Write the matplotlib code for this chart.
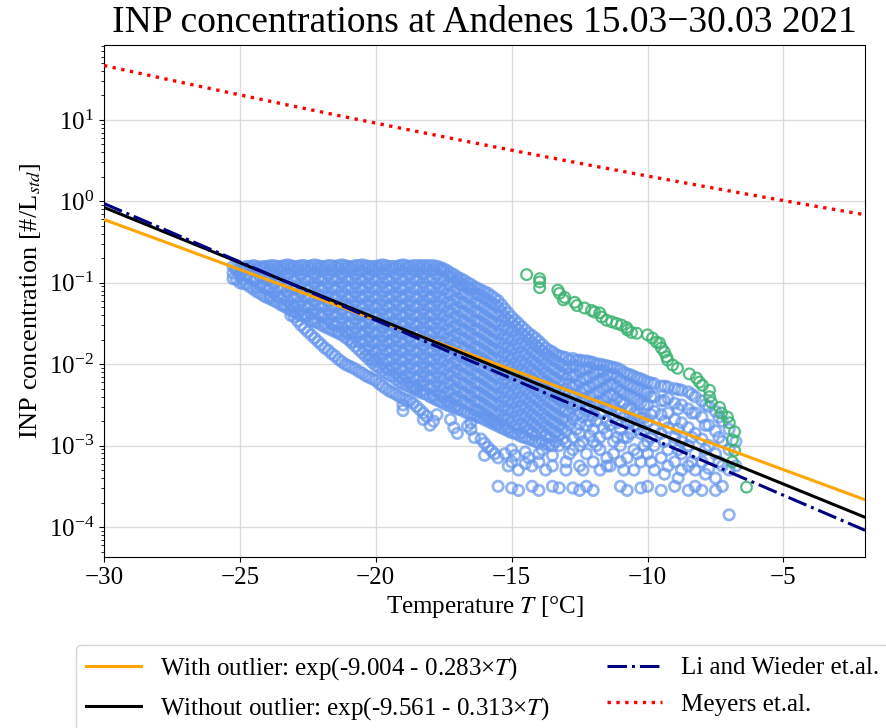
import numpy as np
import matplotlib
matplotlib.use("Agg")
from matplotlib import pyplot as plt

plt.rcParams['font.family'] = ['Liberation Serif', 'DejaVu Serif']
plt.rcParams['mathtext.fontset'] = 'stix'

# blue INP spectra, read column by column: temperature [C] and log10 concentration [#/L]
blue_T = [-25.25, -25.0, -24.75, -24.5, -24.25, -24.0, -23.75, -23.5, -23.25, -23.0,
          -22.75, -22.5, -22.25, -22.0, -21.75, -21.5, -21.25, -21.0, -20.75, -20.5,
          -20.25, -20.0, -19.75, -19.5, -19.25, -19.0, -18.75, -18.5, -18.25, -18.0,
          -17.75, -17.5, -17.25, -17.0, -16.75, -16.5, -16.25, -16.0, -15.75, -15.5,
          -15.25, -15.0, -14.75, -14.5, -14.25, -14.0, -13.75, -13.5, -13.25, -13.0,
          -12.75, -12.5, -12.25, -12.0, -11.75, -11.5, -11.25, -11.0, -10.75, -10.5,
          -10.25, -10.0, -9.75, -9.5, -9.25, -9.0, -8.75, -8.5, -8.25, -8.0,
          -7.75, -7.5, -7.25, -7.0, -6.75]
blue_logc = [
    [-0.80, -0.88, -0.95],
    [-0.82, -0.91, -1.00],
    [-0.80, -0.91, -1.02],
    [-0.79, -0.86, -0.97, -1.08],
    [-0.81, -0.92, -1.03, -1.13],
    [-0.80, -0.86, -0.97, -1.08, -1.18],
    [-0.79, -0.90, -1.01, -1.12, -1.22],
    [-0.80, -0.86, -0.97, -1.08, -1.19, -1.27],
    [-0.78, -0.89, -1.00, -1.11, -1.22, -1.31],
    [-0.80, -0.86, -0.97, -1.08, -1.19, -1.30, -1.36, -1.42],
    [-0.79, -0.90, -1.01, -1.12, -1.23, -1.34, -1.40, -1.52],
    [-0.80, -0.86, -0.97, -1.08, -1.19, -1.30, -1.41, -1.60],
    [-0.78, -0.89, -1.00, -1.11, -1.22, -1.33, -1.44, -1.48, -1.68],
    [-0.80, -0.86, -0.97, -1.08, -1.19, -1.30, -1.41, -1.52, -1.76],
    [-0.79, -0.90, -1.01, -1.12, -1.23, -1.34, -1.45, -1.56, -1.83],
    [-0.80, -0.86, -0.97, -1.08, -1.19, -1.30, -1.41, -1.52, -1.60, -1.90],
    [-0.78, -0.89, -1.00, -1.11, -1.22, -1.33, -1.44, -1.55, -1.64, -1.97],
    [-0.80, -0.86, -0.97, -1.08, -1.19, -1.30, -1.41, -1.52, -1.63, -1.70, -2.02],
    [-0.79, -0.90, -1.01, -1.12, -1.23, -1.34, -1.45, -1.56, -1.67, -1.78, -2.06],
    [-0.78, -0.86, -0.97, -1.08, -1.19, -1.30, -1.41, -1.52, -1.63, -1.74, -1.86, -2.11],
    [-0.80, -0.90, -1.01, -1.12, -1.23, -1.34, -1.45, -1.56, -1.67, -1.78, -1.89, -1.94, -2.16],
    [-0.80, -0.86, -0.97, -1.08, -1.19, -1.30, -1.41, -1.52, -1.63, -1.74, -1.85, -1.96, -2.02, -2.20],
    [-0.78, -0.89, -1.00, -1.11, -1.22, -1.33, -1.44, -1.55, -1.66, -1.77, -1.88, -1.99, -2.08, -2.27],
    [-0.80, -0.86, -0.97, -1.08, -1.19, -1.30, -1.41, -1.52, -1.63, -1.74, -1.85, -1.96, -2.07, -2.14, -2.33],
    [-0.80, -0.90, -1.01, -1.12, -1.23, -1.34, -1.45, -1.56, -1.67, -1.78, -1.89, -2.00, -2.11, -2.19, -2.37],
    [-0.78, -0.86, -0.97, -1.08, -1.19, -1.30, -1.41, -1.52, -1.63, -1.74, -1.85, -1.96, -2.07, -2.18, -2.24,
     -2.42, -2.50, -2.57],
    [-0.80, -0.90, -1.01, -1.12, -1.23, -1.34, -1.45, -1.56, -1.67, -1.78, -1.89, -2.00, -2.11, -2.22, -2.28,
     -2.45],
    [-0.79, -0.86, -0.97, -1.08, -1.19, -1.30, -1.41, -1.52, -1.63, -1.74, -1.85, -1.96, -2.07, -2.18, -2.29,
     -2.32, -2.52],
    [-0.79, -0.89, -1.00, -1.11, -1.22, -1.33, -1.44, -1.55, -1.66, -1.77, -1.88, -1.99, -2.10, -2.21, -2.32,
     -2.36, -2.60, -2.68],
    [-0.79, -0.86, -0.97, -1.08, -1.19, -1.30, -1.41, -1.52, -1.63, -1.74, -1.85, -1.96, -2.07, -2.18, -2.29,
     -2.40, -2.75],
    [-0.80, -0.90, -1.01, -1.12, -1.23, -1.34, -1.45, -1.56, -1.67, -1.78, -1.89, -2.00, -2.11, -2.22, -2.33,
     -2.44, -2.62],
    [-0.83, -0.86, -0.97, -1.08, -1.19, -1.30, -1.41, -1.52, -1.63, -1.74, -1.85, -1.96, -2.07, -2.18, -2.29,
     -2.40, -2.48],
    [-0.88, -0.93, -1.04, -1.15, -1.26, -1.37, -1.48, -1.59, -1.70, -1.81, -1.92, -2.03, -2.14, -2.25, -2.36,
     -2.47, -2.52, -2.68],
    [-0.93, -0.97, -1.08, -1.19, -1.30, -1.41, -1.52, -1.63, -1.74, -1.85, -1.96, -2.07, -2.18, -2.29, -2.40,
     -2.51, -2.55, -2.85],
    [-0.97, -1.03, -1.14, -1.25, -1.36, -1.47, -1.58, -1.69, -1.80, -1.91, -2.02, -2.13, -2.24, -2.35, -2.46,
     -2.58],
    [-1.02, -1.08, -1.19, -1.30, -1.41, -1.52, -1.63, -1.74, -1.85, -1.96, -2.07, -2.18, -2.29, -2.40, -2.51,
     -2.62, -2.72, -2.80],
    [-1.07, -1.14, -1.25, -1.36, -1.47, -1.58, -1.69, -1.80, -1.91, -2.02, -2.13, -2.24, -2.35, -2.46, -2.57,
     -2.65],
    [-1.11, -1.19, -1.30, -1.41, -1.52, -1.63, -1.74, -1.85, -1.96, -2.07, -2.18, -2.29, -2.40, -2.51, -2.62,
     -2.68, -2.97, -3.12],
    [-1.16, -1.25, -1.36, -1.47, -1.58, -1.69, -1.80, -1.91, -2.02, -2.13, -2.24, -2.35, -2.46, -2.57, -2.68,
     -2.72, -3.06],
    [-1.22, -1.30, -1.41, -1.52, -1.63, -1.74, -1.85, -1.96, -2.07, -2.18, -2.29, -2.40, -2.51, -2.62, -2.73,
     -2.76, -3.15, -3.50],
    [-1.32, -1.42, -1.53, -1.64, -1.75, -1.86, -1.97, -2.08, -2.19, -2.30, -2.41, -2.52, -2.63, -2.74, -2.80,
     -3.10],
    [-1.42, -1.49, -1.60, -1.71, -1.82, -1.93, -2.04, -2.15, -2.26, -2.37, -2.48, -2.59, -2.70, -2.84, -3.05,
     -3.20, -3.52],
    [-1.50, -1.58, -1.69, -1.80, -1.91, -2.02, -2.13, -2.24, -2.35, -2.46, -2.57, -2.68, -2.79, -2.87, -3.30,
     -3.55],
    [-1.58, -1.66, -1.77, -1.88, -1.99, -2.10, -2.21, -2.32, -2.43, -2.54, -2.65, -2.76, -2.90, -3.08, -3.22],
    [-1.65, -1.74, -1.85, -1.96, -2.07, -2.18, -2.29, -2.40, -2.51, -2.62, -2.73, -2.84, -2.93, -3.25, -3.50],
    [-1.72, -1.80, -1.91, -2.02, -2.13, -2.24, -2.35, -2.46, -2.57, -2.68, -2.79, -2.96, -3.10, -3.20, -3.55],
    [-1.80, -1.88, -1.99, -2.10, -2.21, -2.32, -2.43, -2.54, -2.65, -2.76, -2.87, -2.98, -3.30],
    [-1.85, -1.94, -2.05, -2.16, -2.27, -2.38, -2.49, -2.60, -2.71, -2.82, -3.00, -3.12, -3.25, -3.50],
    [-1.90, -1.99, -2.10, -2.21, -2.32, -2.43, -2.54, -2.65, -2.76, -2.87, -3.00, -3.52],
    [-1.92, -2.05, -2.18, -2.31, -2.44, -2.57, -2.70, -2.83, -2.96, -3.20, -3.30],
    [-1.93, -2.02, -2.15, -2.28, -2.41, -2.54, -2.67, -2.90, -3.05, -3.52],
    [-1.95, -2.08, -2.21, -2.34, -2.47, -2.60, -2.73, -2.86, -3.00, -3.25, -3.55],
    [-1.96, -2.05, -2.18, -2.31, -2.44, -2.57, -2.75, -3.10, -3.50],
    [-1.98, -2.11, -2.24, -2.37, -2.50, -2.63, -2.80, -2.95, -3.20, -3.55],
    [-2.00, -2.08, -2.21, -2.34, -2.47, -2.60, -2.90, -3.05, -3.30],
    [-2.02, -2.14, -2.27, -2.40, -2.53, -2.70, -2.85, -3.15, -3.25],
    [-2.04, -2.12, -2.25, -2.38, -2.51, -2.65, -2.95, -3.10],
    [-2.07, -2.20, -2.33, -2.46, -2.60, -2.80, -3.00, -3.20, -3.50],
    [-2.12, -2.25, -2.38, -2.55, -2.72, -2.90, -3.15, -3.55],
    [-2.15, -2.28, -2.42, -2.60, -2.75, -3.05, -3.30],
    [-2.18, -2.32, -2.48, -2.66, -2.85, -3.20, -3.52],
    [-2.22, -2.35, -2.50, -2.70, -2.95, -3.10, -3.50],
    [-2.24, -2.40, -2.58, -2.80, -3.00, -3.30],
    [-2.27, -2.45, -2.62, -2.85, -3.15, -3.55],
    [-2.28, -2.42, -2.60, -2.78, -3.05, -3.25],
    [-2.30, -2.48, -2.68, -2.90, -3.20, -3.50],
    [-2.32, -2.50, -2.72, -2.95, -3.10, -3.30],
    [-2.34, -2.55, -2.78, -3.00, -3.25, -3.55],
    [-2.40, -2.60, -2.85, -3.10, -3.30, -3.50],
    [-2.45, -2.65, -2.92, -3.20, -3.55],
    [-2.52, -2.75, -3.00, -3.28],
    [-2.58, -2.82, -3.10, -3.40, -3.55],
    [-2.70, -2.95, -3.25, -3.50],
    [-2.80, -3.05, -3.30, -3.85],
    [-2.95, -3.25],
]

# second set of blue columns, read between the ones above
blue_T2 = [-25.125, -24.875, -24.625, -24.375, -24.125, -23.875, -23.625, -23.375, -23.125, -22.875,
           -22.625, -22.375, -22.125, -21.875, -21.625, -21.375, -21.125, -20.875, -20.625, -20.375,
           -20.125, -19.875, -19.625, -19.375, -19.125, -18.875, -18.625, -18.375, -18.125, -17.875,
           -17.625, -17.375, -17.125, -16.875, -16.625, -16.375, -16.125, -15.875, -15.625, -15.375,
           -15.125, -14.875, -14.625, -14.375, -14.125, -13.875, -13.625, -13.375, -13.125, -12.875,
           -12.625, -12.375, -12.125, -11.875, -11.625, -11.375, -11.125, -10.875, -10.625, -10.375,
           -10.125, -9.875, -9.375, -8.875, -8.375, -7.875, -7.375]
blue_logc2 = [
    [-0.81, -0.85, -0.96],
    [-0.81, -0.85, -0.96, -1.01],
    [-0.80, -0.83, -0.94, -1.05],
    [-0.80, -0.84, -0.95, -1.06, -1.11],
    [-0.80, -0.83, -0.94, -1.05, -1.16],
    [-0.79, -0.84, -0.95, -1.06, -1.17, -1.20],
    [-0.80, -0.84, -0.95, -1.06, -1.17, -1.24],
    [-0.79, -0.83, -0.94, -1.05, -1.16, -1.27, -1.29],
    [-0.79, -0.83, -0.94, -1.05, -1.16, -1.27, -1.34, -1.40],
    [-0.80, -0.84, -0.95, -1.06, -1.17, -1.28, -1.38, -1.47],
    [-0.79, -0.84, -0.95, -1.06, -1.17, -1.28, -1.39, -1.42, -1.56],
    [-0.79, -0.83, -0.94, -1.05, -1.16, -1.27, -1.38, -1.46, -1.64],
    [-0.79, -0.83, -0.94, -1.05, -1.16, -1.27, -1.38, -1.49, -1.72],
    [-0.80, -0.84, -0.95, -1.06, -1.17, -1.28, -1.39, -1.50, -1.54, -1.80],
    [-0.79, -0.84, -0.95, -1.06, -1.17, -1.28, -1.39, -1.50, -1.58, -1.87],
    [-0.79, -0.83, -0.94, -1.05, -1.16, -1.27, -1.38, -1.49, -1.60, -1.62, -1.94],
    [-0.79, -0.83, -0.94, -1.05, -1.16, -1.27, -1.38, -1.49, -1.60, -1.67, -2.00],
    [-0.80, -0.84, -0.95, -1.06, -1.17, -1.28, -1.39, -1.50, -1.61, -1.72, -1.74, -2.04],
    [-0.79, -0.84, -0.95, -1.06, -1.17, -1.28, -1.39, -1.50, -1.61, -1.72, -1.82, -2.09],
    [-0.79, -0.83, -0.94, -1.05, -1.16, -1.27, -1.38, -1.49, -1.60, -1.71, -1.82, -1.90, -2.14],
    [-0.80, -0.84, -0.95, -1.06, -1.17, -1.28, -1.39, -1.50, -1.61, -1.72, -1.83, -1.94, -1.98, -2.18],
    [-0.79, -0.83, -0.94, -1.05, -1.16, -1.27, -1.38, -1.49, -1.60, -1.71, -1.82, -1.93, -2.04, -2.24],
    [-0.79, -0.84, -0.95, -1.06, -1.17, -1.28, -1.39, -1.50, -1.61, -1.72, -1.83, -1.94, -2.05, -2.11, -2.30],
    [-0.80, -0.83, -0.94, -1.05, -1.16, -1.27, -1.38, -1.49, -1.60, -1.71, -1.82, -1.93, -2.04, -2.15, -2.35],
    [-0.79, -0.84, -0.95, -1.06, -1.17, -1.28, -1.39, -1.50, -1.61, -1.72, -1.83, -1.94, -2.05, -2.16, -2.22,
     -2.40],
    [-0.79, -0.83, -0.94, -1.05, -1.16, -1.27, -1.38, -1.49, -1.60, -1.71, -1.82, -1.93, -2.04, -2.15, -2.26,
     -2.44],
    [-0.79, -0.84, -0.95, -1.06, -1.17, -1.28, -1.39, -1.50, -1.61, -1.72, -1.83, -1.94, -2.05, -2.16, -2.27,
     -2.30, -2.48],
    [-0.79, -0.83, -0.94, -1.05, -1.16, -1.27, -1.38, -1.49, -1.60, -1.71, -1.82, -1.93, -2.04, -2.15, -2.26,
     -2.34, -2.56],
    [-0.79, -0.83, -0.94, -1.05, -1.16, -1.27, -1.38, -1.49, -1.60, -1.71, -1.82, -1.93, -2.04, -2.15, -2.26,
     -2.37, -2.64],
    [-0.79, -0.84, -0.95, -1.06, -1.17, -1.28, -1.39, -1.50, -1.61, -1.72, -1.83, -1.94, -2.05, -2.16, -2.27,
     -2.38, -2.42, -2.70],
    [-0.81, -0.84, -0.95, -1.06, -1.17, -1.28, -1.39, -1.50, -1.61, -1.72, -1.83, -1.94, -2.05, -2.16, -2.27,
     -2.38, -2.46],
    [-0.85, -0.91, -1.02, -1.13, -1.24, -1.35, -1.46, -1.57, -1.68, -1.79, -1.90, -2.01, -2.12, -2.23, -2.34,
     -2.45, -2.50],
    [-0.90, -0.99, -1.10, -1.21, -1.32, -1.43, -1.54, -1.65, -1.76, -1.87, -1.98, -2.09, -2.20, -2.31, -2.42,
     -2.53, -2.78],
    [-0.95, -1.02, -1.13, -1.24, -1.35, -1.46, -1.57, -1.68, -1.79, -1.90, -2.01, -2.12, -2.23, -2.34, -2.45,
     -2.56],
    [-1.00, -1.06, -1.17, -1.28, -1.39, -1.50, -1.61, -1.72, -1.83, -1.94, -2.05, -2.16, -2.27, -2.38, -2.49,
     -2.60, -2.76],
    [-1.05, -1.13, -1.24, -1.35, -1.46, -1.57, -1.68, -1.79, -1.90, -2.01, -2.12, -2.23, -2.34, -2.45, -2.56,
     -2.63, -2.90],
    [-1.09, -1.16, -1.27, -1.38, -1.49, -1.60, -1.71, -1.82, -1.93, -2.04, -2.15, -2.26, -2.37, -2.48, -2.59,
     -2.66, -2.92],
    [-1.13, -1.22, -1.33, -1.44, -1.55, -1.66, -1.77, -1.88, -1.99, -2.10, -2.21, -2.32, -2.43, -2.54, -2.65,
     -2.70, -3.02],
    [-1.19, -1.27, -1.38, -1.49, -1.60, -1.71, -1.82, -1.93, -2.04, -2.15, -2.26, -2.37, -2.48, -2.59, -2.70,
     -2.74, -3.10],
    [-1.27, -1.36, -1.47, -1.58, -1.69, -1.80, -1.91, -2.02, -2.13, -2.24, -2.35, -2.46, -2.57, -2.68, -2.78],
    [-1.37, -1.46, -1.57, -1.68, -1.79, -1.90, -2.01, -2.12, -2.23, -2.34, -2.45, -2.56, -2.67, -2.78, -2.82,
     -3.25],
    [-1.46, -1.54, -1.65, -1.76, -1.87, -1.98, -2.09, -2.20, -2.31, -2.42, -2.53, -2.64, -2.75, -2.85, -3.12],
    [-1.54, -1.63, -1.74, -1.85, -1.96, -2.07, -2.18, -2.29, -2.40, -2.51, -2.62, -2.73, -2.84, -2.89],
    [-1.62, -1.70, -1.81, -1.92, -2.03, -2.14, -2.25, -2.36, -2.47, -2.58, -2.69, -2.80, -2.92, -3.15],
    [-1.68, -1.77, -1.88, -1.99, -2.10, -2.21, -2.32, -2.43, -2.54, -2.65, -2.76, -2.87, -2.95],
    [-1.76, -1.84, -1.95, -2.06, -2.17, -2.28, -2.39, -2.50, -2.61, -2.72, -2.83, -2.94, -3.05],
    [-1.83, -1.91, -2.02, -2.13, -2.24, -2.35, -2.46, -2.57, -2.68, -2.79, -2.90, -2.99],
    [-1.88, -1.96, -2.07, -2.18, -2.29, -2.40, -2.51, -2.62, -2.73, -2.84, -2.95],
    [-1.91, -2.02, -2.13, -2.24, -2.35, -2.46, -2.57, -2.68, -2.79, -2.92],
    [-1.95, -2.04, -2.12, -2.25, -2.36, -2.48, -2.60, -2.75, -3.10],
    [-1.95, -2.02, -2.14, -2.26, -2.38, -2.50, -2.62, -2.80],
    [-1.96, -2.06, -2.18, -2.30, -2.45, -2.65, -2.95, -3.30],
    [-1.97, -2.04, -2.16, -2.28, -2.40, -2.52, -2.70, -2.88],
    [-2.00, -2.10, -2.22, -2.35, -2.48, -2.70, -3.00],
    [-2.01, -2.08, -2.18, -2.30, -2.44, -2.58, -2.78],
    [-2.03, -2.13, -2.25, -2.38, -2.55, -2.75, -3.25],
    [-2.05, -2.16, -2.28, -2.42, -2.58, -2.72, -2.90],
    [-2.10, -2.22, -2.35, -2.48, -2.64, -2.90, -3.30],
    [-2.13, -2.26, -2.40, -2.55, -2.70, -2.85],
    [-2.17, -2.30, -2.45, -2.62, -2.80, -3.10],
    [-2.20, -2.34, -2.50, -2.66, -2.82, -3.00],
    [-2.23, -2.40, -2.62, -2.90, -3.20],
    [-2.27, -2.45, -2.70, -2.95, -3.35],
    [-2.31, -2.55, -2.80, -3.05, -3.40],
    [-2.37, -2.60, -2.90, -3.20],
    [-2.50, -2.75, -3.05, -3.35],
    [-2.65, -2.90, -3.20],
]

# green (outlier) spectrum
green_T = [-14.45, -13.97, -13.97, -13.97, -13.30, -13.24, -13.05, -13.10, -12.68, -12.60,
           -12.32, -12.06, -11.95, -11.76, -11.69, -11.51, -11.32, -11.14, -10.96, -10.77,
           -10.74, -10.59, -10.40, -10.00, -9.82, -9.67, -9.56, -9.49, -9.38, -9.30,
           -9.26, -9.08, -8.90, -8.46, -8.20, -8.09, -7.98, -7.72, -7.72, -7.65,
           -7.35, -7.28, -7.06, -6.99, -6.80, -6.88, -6.80, -6.88, -6.36]
green_logc = [-0.90, -0.95, -0.99, -1.06, -1.09, -1.13, -1.18, -1.21, -1.24, -1.28,
              -1.31, -1.34, -1.36, -1.37, -1.42, -1.46, -1.48, -1.50, -1.52, -1.55,
              -1.58, -1.61, -1.62, -1.64, -1.68, -1.73, -1.74, -1.80, -1.85, -1.91,
              -1.95, -2.01, -2.05, -2.12, -2.17, -2.22, -2.26, -2.32, -2.40, -2.47,
              -2.53, -2.60, -2.65, -2.72, -2.83, -2.93, -3.06, -3.20, -3.51]

# fit coefficients, ln(n) = a + b*T
fit_with = (-9.004, -0.283)
fit_without = (-9.561, -0.313)
li_wieder = (-9.962, -0.330)


def meyers(T):
    # Meyers et al. (1992), supersaturation over ice from Magnus formulas
    esw = 6.112 * np.exp(17.62 * T / (243.12 + T))
    esi = 6.112 * np.exp(22.46 * T / (272.62 + T))
    si = esw / esi
    return np.exp(-0.639 + 12.96 * (si - 1))


def main():
    fig = plt.figure(figsize=(8.87, 7.28), dpi=100)
    ax = fig.add_axes([0.1172, 0.2349, 0.858, 0.7033])

    bx = []
    by = []
    for temps, cols in [(blue_T, blue_logc), (blue_T2, blue_logc2)]:
        for t, col in zip(temps, cols):
            for v in col:
                bx.append(t)
                by.append(10 ** v)
    ax.scatter(bx, by, s=56, facecolors='none', edgecolors='cornflowerblue',
               linewidths=2.0, alpha=0.7, zorder=2)
    ax.scatter(green_T, 10 ** np.array(green_logc), s=60, facecolors='none',
               edgecolors='mediumseagreen', linewidths=1.6, alpha=0.85, zorder=2)

    T = np.linspace(-30, -2, 300)
    ax.plot(T, np.exp(fit_with[0] + fit_with[1] * T), color='orange', lw=2.2,
            label='With outlier: exp(-9.004 - 0.283\u00d7$T$)', zorder=3)
    ax.plot(T, np.exp(fit_without[0] + fit_without[1] * T), color='black', lw=2.2,
            label='Without outlier: exp(-9.561 - 0.313\u00d7$T$)', zorder=3)
    ax.plot(T, np.exp(li_wieder[0] + li_wieder[1] * T), color='navy', lw=2.2,
            ls='-.', label='Li and Wieder et.al.', zorder=3)
    ax.plot(T, meyers(T), color='red', lw=2.4, ls=':', label='Meyers et.al.', zorder=3)

    ax.set_yscale('log')
    ax.set_xlim(-30, -2)
    ax.set_ylim(10 ** -4.368, 10 ** 1.92)
    ax.set_xticks([-30, -25, -20, -15, -10, -5])
    ax.grid(True, which='major', color='lightgray', lw=1.0, alpha=0.8)
    ax.tick_params(labelsize=18)

    ax.set_title('INP concentrations at Andenes 15.03\u221230.03 2021', fontsize=27, pad=9)
    ax.set_xlabel('Temperature $T$ [\u00b0C]', fontsize=18)
    ax.set_ylabel('INP concentration [#/L$_{std}$]', fontsize=19)

    fig.legend(loc='upper left', bbox_to_anchor=(76 / 887, 1 - 645 / 728), ncol=2,
               fontsize=18, handlelength=2.2, handletextpad=0.76, columnspacing=2.3,
               labelspacing=0.55, borderaxespad=0)

    fig.savefig('out.png', dpi=100)


if __name__ == "__main__":
    main()
